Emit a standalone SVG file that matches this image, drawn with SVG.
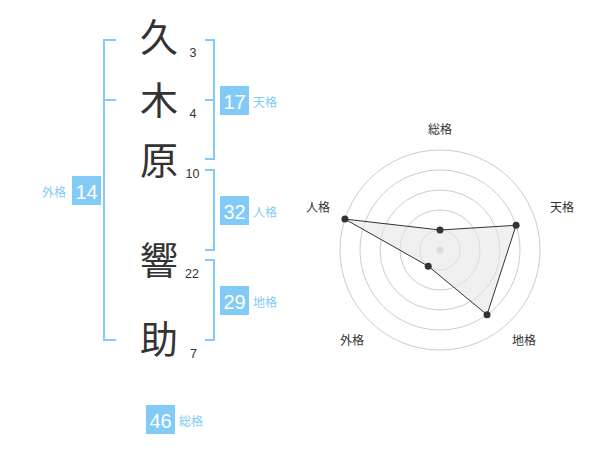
<svg xmlns="http://www.w3.org/2000/svg" width="600" height="470" viewBox="0 0 600 470">
<style>
.kanji{font-family:"Noto Sans CJK JP","Noto Sans CJK SC",sans-serif;font-size:38px;fill:#333;text-anchor:middle}
.stroke{font-family:"Liberation Sans",Arial,sans-serif;font-size:12.5px;fill:#333;text-anchor:middle}
.br{fill:none;stroke:#82cbf6;stroke-width:2}
.box{fill:#82cbf6}
.boxnum{font-family:"Liberation Sans",Arial,sans-serif;font-size:20px;fill:#fff;text-anchor:middle}
.lbl{font-family:"Noto Sans CJK JP","Noto Sans CJK SC",sans-serif;font-size:12px;fill:#82cbf6}
.ring{fill:none;stroke:#cccccc;stroke-width:1}
.axis{font-family:"Noto Sans CJK JP","Noto Sans CJK SC",sans-serif;font-size:12px;fill:#333;text-anchor:middle}
.pt{fill:#333}
</style>
<rect width="600" height="470" fill="#fff"/>
<g id="connectors">
<path class="br" d="M116,40 H104 V340 H116 M104,100 H116"/>
<path class="br" d="M205,40 H214 V159 H205 M205,100 H214"/>
<path class="br" d="M205,170 H214 V250 H205"/>
<path class="br" d="M205,260 H214 V340 H205"/>
</g>
<g id="char1"><text class="kanji" x="159" y="51">久</text><text class="stroke" x="193" y="57">3</text></g>
<g id="char2"><text class="kanji" x="159" y="114">木</text><text class="stroke" x="193" y="117.5">4</text></g>
<g id="char3"><text class="kanji" x="159" y="174">原</text><text class="stroke" x="192.5" y="177.5">10</text></g>
<g id="char4"><text class="kanji" x="159" y="274">響</text><text class="stroke" x="192" y="277.5">22</text></g>
<g id="char5"><text class="kanji" x="159" y="353">助</text><text class="stroke" x="193.5" y="357.5">7</text></g>
<g id="tenkaku"><rect class="box" x="220" y="86" width="29" height="29"/><text class="boxnum" x="234.5" y="109">17</text><text class="lbl" x="253" y="107">天格</text></g>
<g id="jinkaku"><rect class="box" x="220" y="196" width="29" height="29"/><text class="boxnum" x="234.5" y="219">32</text><text class="lbl" x="253" y="217">人格</text></g>
<g id="chikaku"><rect class="box" x="220" y="286" width="29" height="29"/><text class="boxnum" x="234.5" y="309">29</text><text class="lbl" x="253" y="307">地格</text></g>
<g id="gaikaku"><rect class="box" x="72" y="176" width="29" height="29"/><text class="boxnum" x="86.5" y="199">14</text><text class="lbl" x="66" y="197" text-anchor="end">外格</text></g>
<g id="soukaku"><rect class="box" x="146" y="405" width="29" height="29"/><text class="boxnum" x="160.5" y="428">46</text><text class="lbl" x="179" y="426">総格</text></g>
<g id="radar">
<circle class="ring" cx="440" cy="250" r="20"/>
<circle class="ring" cx="440" cy="250" r="40"/>
<circle class="ring" cx="440" cy="250" r="60"/>
<circle class="ring" cx="440" cy="250" r="80"/>
<circle class="ring" cx="440" cy="250" r="100"/>
<circle cx="440" cy="250" r="3.5" fill="#cccccc"/>
<polygon points="440,230 516.09,225.28 487.02,314.72 428.24,266.18 344.89,219.10" fill="#e6e6e6" fill-opacity="0.6" stroke="#333" stroke-width="1"/>
<circle class="pt" cx="440" cy="230" r="3.5"/>
<circle class="pt" cx="516.09" cy="225.28" r="3.5"/>
<circle class="pt" cx="487.02" cy="314.72" r="3.5"/>
<circle class="pt" cx="428.24" cy="266.18" r="3.5"/>
<circle class="pt" cx="344.89" cy="219.10" r="3.5"/>
<text class="axis" x="440" y="134">総格</text>
<text class="axis" x="562" y="212">天格</text>
<text class="axis" x="318" y="212">人格</text>
<text class="axis" x="524" y="345">地格</text>
<text class="axis" x="352" y="345">外格</text>
</g>
</svg>
